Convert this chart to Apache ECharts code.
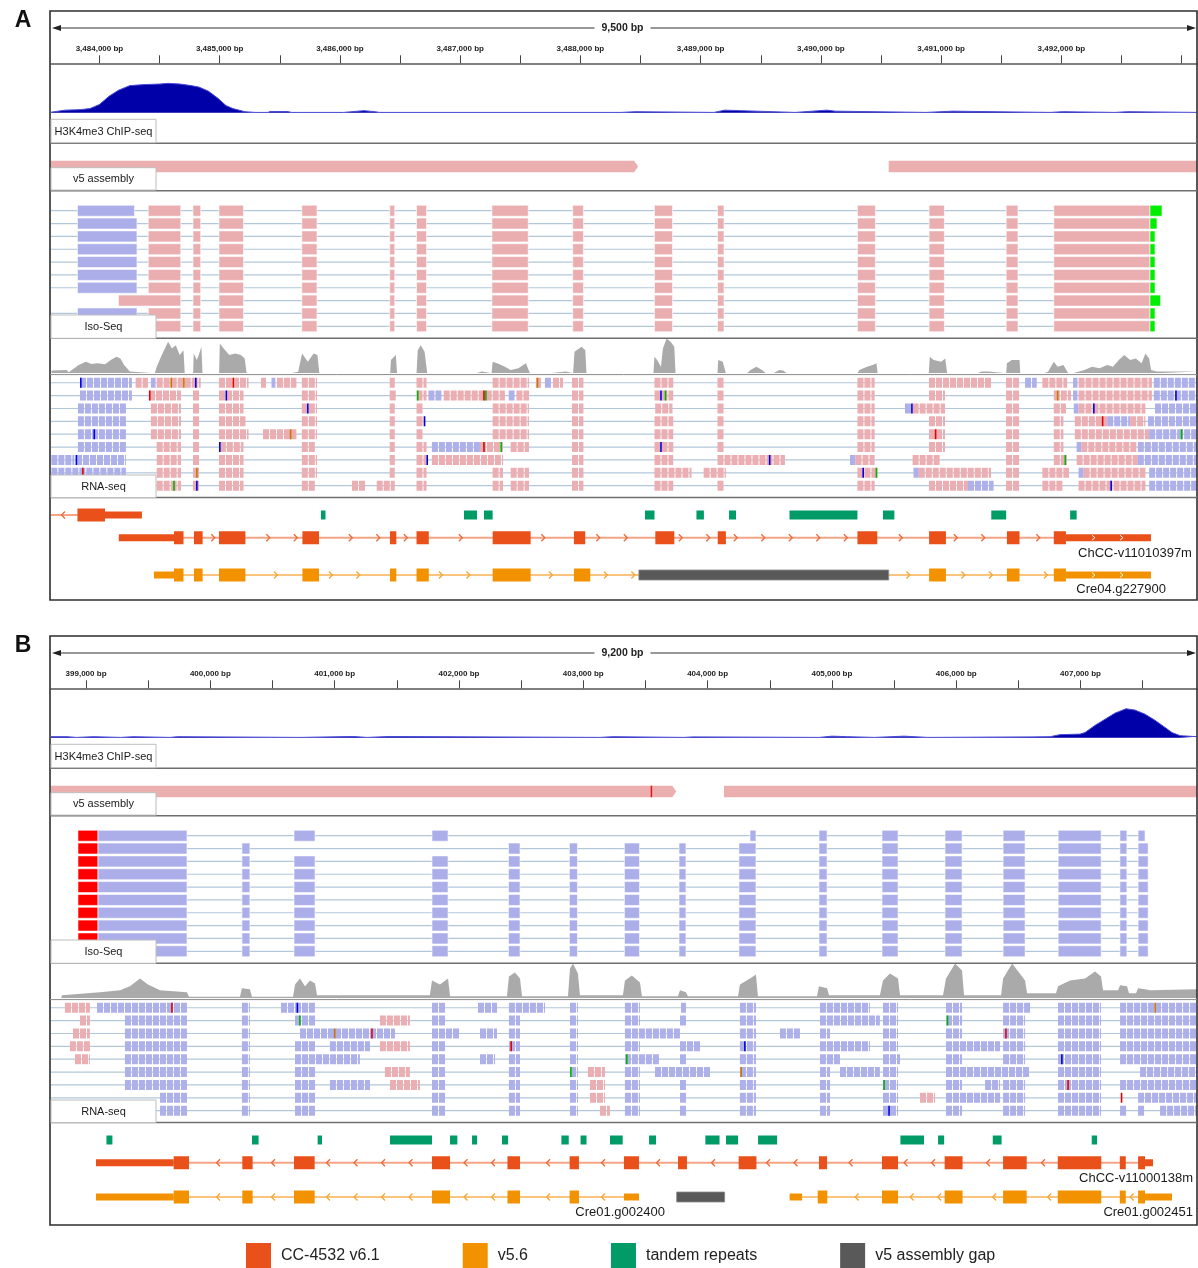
<!DOCTYPE html>
<html><head><meta charset="utf-8">
<script src="https://cdn.jsdelivr.net/npm/echarts@6/dist/echarts.min.js"></script>
<style>html,body{margin:0;padding:0;background:#fff;}#chart{width:1198px;height:1268px;}</style>
</head><body><div id="chart"></div>
<script>
// ================= PANEL A DATA =================
const A_range = [3483597, 3493128];
const A_span = '9,500 bp';
const A_ticks = [3484000,3484500,3485000,3485500,3486000,3486500,3487000,3487500,3488000,3488500,3489000,3489500,3490000,3490500,3491000,3491500,3492000,3492500,3493000];
const A_tickLabels = [3484000,3485000,3486000,3487000,3488000,3489000,3490000,3491000,3492000];
const A_chip = [[3483597,0.5],[3483713,2.5],[3483838,3],[3483921,4],[3484000,8],[3484079,16],[3484159,22],[3484254,26.5],[3484378,27.5],[3484503,28],[3484570,28.7],[3484670,28],[3484761,26.5],[3484828,25],[3484907,21],[3484986,14],[3485052,7],[3485110,4],[3485210,1],[3485293,0.3],[3485400,0.3],[3485420,1.2],[3485560,1.2],[3485600,0.3],[3486030,0.3],[3486040,1],[3486200,2],[3486290,1],[3486330,0.3],[3488337,0.3],[3488345,1],[3488455,1],[3488462,0.3],[3489110,0.3],[3489120,2],[3489200,2.5],[3489330,2],[3489335,0.3],[3489785,0.3],[3489795,1.5],[3490050,2.5],[3490120,1.5],[3490126,0.3],[3490874,0.3],[3490880,1.5],[3491095,1.5],[3491100,0.3],[3491906,0.3],[3491910,1],[3492010,1],[3492015,0.3],[3492445,0.3],[3492450,1],[3492550,1],[3492553,0.3],[3493128,0.3]];
const A_v5 = [[3483597,3488480,1],[3490564,3493128,0]];
const A_v5mark = [];
const A_isoExons = [[3484406,3484676],[3484778,3484842],[3484994,3485198],[3485683,3485809],[3486414,3486456],[3486637,3486720],[3487264,3487566],[3487936,3488025],[3488616,3488766],[3489140,3489194],[3490304,3490453],[3490900,3491027],[3491541,3491639],[3491937,3492737]];
const A_isoBlue = [[3483817,3484291],[3483817,3484312],[3483817,3484312],[3483817,3484312],[3483817,3484312],[3483817,3484312],[3483817,3484312],null,[3483817,3484312],[3483817,3484312]];
const A_isoFirst = [3484406,3484406,3484406,3484406,3484406,3484406,3484406,3484158,3484406,3484406];
const A_isoTail = [3492837,3492795,3492779,3492779,3492779,3492779,3492779,3492825,3492779,3492779];
const A_isoLineStart = [3483597,3483597,3483597,3483597,3483597,3483597,3483597,3484158,3483597,3483597];
const A_cov = [[3483601,2.7],[3483728,3.3],[3483744,1],[3483824,8],[3483887,11.7],[3483935,9.3],[3483983,10],[3484047,9],[3484094,13.3],[3484141,16.7],[3484174,15],[3484205,8.3],[3484253,1.7],[3484269,0],[3484460,0],[3484476,6.7],[3484524,20],[3484571,31.7],[3484603,25],[3484635,28.3],[3484667,18.3],[3484699,23.3],[3484709,0],[3484779,0],[3484784,20],[3484810,13.3],[3484826,18.3],[3484848,26.7],[3484857,0],[3484995,0],[3485001,30],[3485033,25],[3485080,18.3],[3485129,20],[3485176,18.3],[3485208,15],[3485224,0],[3485590,0],[3485606,1.5],[3485653,1.5],[3485685,20],[3485733,11.7],[3485781,20],[3485813,18.3],[3485829,0],[3486418,0],[3486424,13.3],[3486465,18.3],[3486475,0],[3486637,0],[3486647,23.3],[3486672,28.3],[3486704,21.7],[3486726,0],[3487134,0],[3487150,1.7],[3487181,1.7],[3487197,0],[3487261,0],[3487270,11.7],[3487308,10],[3487372,6.7],[3487420,3.3],[3487484,5],[3487547,10],[3487580,0],[3487739,0],[3487754,1.7],[3487881,1.7],[3487897,0],[3487939,0],[3487951,21.7],[3488009,26.7],[3488041,23.3],[3488050,0],[3488607,0],[3488616,16.7],[3488638,13.3],[3488670,6.7],[3488686,25],[3488717,35],[3488750,31.7],[3488781,26.7],[3488791,0],[3489140,0],[3489146,13.3],[3489184,11.7],[3489210,0],[3489384,0],[3489415,3.3],[3489463,6.7],[3489511,3.3],[3489543,0],[3489606,0],[3489654,3.3],[3489686,2.7],[3489717,0],[3490304,0],[3490320,3.3],[3490383,6.7],[3490431,8.3],[3490462,10],[3490472,0],[3490897,0],[3490906,16.7],[3490938,13.3],[3490954,15],[3491001,11.7],[3491034,15],[3491050,0],[3491303,0],[3491335,1.7],[3491398,1.7],[3491414,0],[3491541,0],[3491547,10],[3491588,13.3],[3491652,13.3],[3491658,0],[3491858,0],[3491890,1.7],[3491937,11.7],[3491969,6.7],[3492017,8.3],[3492058,0],[3492096,0],[3492192,3.3],[3492255,6.7],[3492318,5],[3492381,8.3],[3492429,6.7],[3492477,13.3],[3492524,18.3],[3492572,13.3],[3492619,15],[3492667,10],[3492699,20],[3492730,15],[3492746,3.3],[3492794,1.7],[3493128,1.7]];
const A_rna = [
[0,3483838,3484270,'b'],[0,3484301,3484403,'p'],[0,3484428,3484467,'b'],[0,3484476,3484842,'p'],[0,3484994,3485240,'p'],[0,3485343,3485385,'p'],[0,3485431,3485463,'b'],[0,3485476,3485638,'p'],[0,3485683,3485809,'p'],[0,3486414,3486456,'p'],[0,3486637,3486720,'p'],[0,3487270,3487572,'p'],[0,3487630,3487672,'p'],[0,3487705,3487755,'b'],[0,3487772,3487855,'p'],[0,3487930,3488025,'p'],[0,3488616,3488772,'p'],[0,3489140,3489194,'p'],[0,3490304,3490447,'p'],[0,3490899,3491415,'p'],[0,3491540,3491648,'p'],[0,3491698,3491795,'b'],[0,3491842,3492048,'p'],[0,3492097,3492134,'b'],[0,3492143,3492753,'p'],[0,3492769,3493128,'b'],
[1,3483838,3484270,'b'],[1,3484412,3484678,'p'],[1,3484778,3484842,'p'],[1,3484994,3485198,'p'],[1,3485683,3485809,'p'],[1,3486414,3486469,'p'],[1,3486637,3486720,'p'],[1,3486736,3486847,'b'],[1,3486863,3487372,'p'],[1,3487404,3487452,'b'],[1,3487468,3487573,'p'],[1,3487930,3488025,'p'],[1,3488616,3488772,'p'],[1,3489140,3489194,'p'],[1,3490304,3490447,'p'],[1,3490899,3491032,'p'],[1,3491540,3491648,'p'],[1,3491937,3492080,'p'],[1,3492097,3492134,'b'],[1,3492143,3492753,'p'],[1,3492769,3493128,'b'],
[2,3483821,3484220,'b'],[2,3484428,3484678,'p'],[2,3484778,3484842,'p'],[2,3484994,3485198,'p'],[2,3485683,3485809,'p'],[2,3486414,3486456,'p'],[2,3486637,3486699,'p'],[2,3487270,3487572,'p'],[2,3487930,3488025,'p'],[2,3488622,3488766,'p'],[2,3489140,3489194,'p'],[2,3490304,3490447,'p'],[2,3490699,3490763,'b'],[2,3490763,3491032,'p'],[2,3491540,3491648,'p'],[2,3491937,3492038,'p'],[2,3492103,3492143,'b'],[2,3492143,3492699,'p'],[2,3492779,3493128,'b'],
[3,3483821,3484220,'b'],[3,3484428,3484678,'p'],[3,3484778,3484842,'p'],[3,3484994,3485214,'p'],[3,3485683,3485809,'p'],[3,3486414,3486456,'p'],[3,3486637,3486704,'p'],[3,3487270,3487572,'p'],[3,3487930,3488025,'p'],[3,3488616,3488772,'p'],[3,3489140,3489194,'p'],[3,3490304,3490447,'p'],[3,3490899,3491032,'p'],[3,3491540,3491648,'p'],[3,3491937,3492017,'p'],[3,3492112,3492381,'p'],[3,3492381,3492572,'b'],[3,3492572,3492699,'p'],[3,3492720,3493128,'b'],
[4,3483821,3484220,'b'],[4,3484428,3484678,'p'],[4,3484778,3484842,'p'],[4,3484994,3485240,'p'],[4,3485360,3485638,'p'],[4,3485683,3485809,'p'],[4,3486414,3486456,'p'],[4,3486637,3486699,'p'],[4,3487270,3487572,'p'],[4,3487930,3488025,'p'],[4,3488616,3488772,'p'],[4,3489140,3489194,'p'],[4,3490304,3490447,'p'],[4,3490899,3491032,'p'],[4,3491540,3491648,'p'],[4,3491937,3492017,'p'],[4,3492112,3492730,'p'],[4,3492730,3493128,'b'],
[5,3483821,3484220,'b'],[5,3484476,3484678,'p'],[5,3484778,3484842,'p'],[5,3485001,3485198,'p'],[5,3485683,3485796,'p'],[5,3486414,3486456,'p'],[5,3486637,3486720,'p'],[5,3486765,3487165,'b'],[5,3487165,3487356,'p'],[5,3487420,3487572,'p'],[5,3487930,3488025,'p'],[5,3488616,3488772,'p'],[5,3489140,3489194,'p'],[5,3490304,3490447,'p'],[5,3490899,3491032,'p'],[5,3491540,3491648,'p'],[5,3491937,3492017,'p'],[5,3492127,3492166,'b'],[5,3492166,3492636,'p'],[5,3492636,3493128,'b'],
[6,3483600,3483791,'b'],[6,3483805,3484220,'b'],[6,3484476,3484678,'p'],[6,3484778,3484842,'p'],[6,3484994,3485198,'p'],[6,3485683,3485809,'p'],[6,3486414,3486456,'p'],[6,3486637,3486720,'p'],[6,3486765,3487356,'p'],[6,3487930,3488025,'p'],[6,3488616,3488772,'p'],[6,3489140,3489701,'p'],[6,3490242,3490288,'b'],[6,3490288,3490447,'p'],[6,3490763,3491001,'p'],[6,3491540,3491648,'p'],[6,3491937,3492048,'p'],[6,3492127,3492636,'p'],[6,3492636,3493128,'b'],
[7,3483600,3484220,'b'],[7,3484476,3484678,'p'],[7,3484778,3484842,'p'],[7,3484994,3485198,'p'],[7,3485683,3485809,'p'],[7,3486414,3486456,'p'],[7,3486637,3486720,'p'],[7,3487270,3487356,'p'],[7,3487420,3487572,'p'],[7,3487930,3488025,'p'],[7,3488616,3488924,'p'],[7,3489025,3489210,'p'],[7,3490304,3490472,'p'],[7,3490770,3490814,'b'],[7,3490814,3491415,'p'],[7,3491540,3491648,'p'],[7,3491842,3492063,'p'],[7,3492143,3492185,'b'],[7,3492185,3492699,'p'],[7,3492730,3493128,'b'],
[8,3484476,3484678,'p'],[8,3484778,3484842,'p'],[8,3484994,3485198,'p'],[8,3485683,3485796,'p'],[8,3486100,3486208,'p'],[8,3486306,3486456,'p'],[8,3486637,3486720,'p'],[8,3487270,3487356,'p'],[8,3487420,3487572,'p'],[8,3487930,3488025,'p'],[8,3488616,3488772,'p'],[8,3489140,3489194,'p'],[8,3490304,3490447,'p'],[8,3490899,3491223,'p'],[8,3491223,3491436,'b'],[8,3491540,3491648,'p'],[8,3491842,3492017,'p'],[8,3492143,3492699,'p'],[8,3492730,3493128,'b']
];
const A_mm = [[0,3483845,'C'],[0,3484597,'G'],[0,3484702,'G'],[0,3484801,'C'],[0,3485113,'T'],[0,3487643,'G'],[1,3484418,'T'],[1,3485055,'C'],[1,3486647,'A'],[1,3487198,'T'],[1,3487214,'A'],[1,3488670,'C'],[1,3488708,'A'],[1,3491969,'G'],[1,3492953,'C'],[2,3485733,'C'],[2,3490757,'C'],[2,3492270,'C'],[3,3486704,'C'],[3,3492343,'T'],[4,3483957,'C'],[4,3485590,'G'],[4,3490954,'T'],[4,3493000,'A'],[5,3485001,'C'],[5,3487198,'T'],[5,3487341,'A'],[5,3488670,'C'],[6,3483808,'C'],[6,3486726,'C'],[6,3489574,'C'],[6,3492033,'A'],[7,3483862,'T'],[7,3484810,'G'],[7,3490352,'C'],[7,3490462,'A'],[8,3484620,'A'],[8,3484810,'C'],[8,3492414,'C']];
const A_repeats = [[3485842,3485880],[3487032,3487140],[3487198,3487270],[3488537,3488616],[3488965,3489027],[3489236,3489294],[3489739,3490304],[3490516,3490611],[3491417,3491541],[3492073,3492127]];
const A_leftGene_cds = [[3483817,3484046]];
const A_leftGene_utr = [[3484046,3484353]];
const A_ChCC_cds = [[3484620,3484699],[3484786,3484858],[3484994,3485214],[3485688,3485826],[3486416,3486469],[3486637,3486739],[3487270,3487586],[3487946,3488040],[3488623,3488781],[3489142,3489210],[3490304,3490469],[3490900,3491040],[3491547,3491652],[3491937,3492038]];
const A_ChCC_utr = [[3484161,3484620],[3492038,3492745]];
const A_Cre_cds = [[3484620,3484699],[3484786,3484858],[3484994,3485214],[3485688,3485826],[3486416,3486469],[3486637,3486739],[3487270,3487586],[3487946,3488082],[3490900,3491040],[3491547,3491652],[3491937,3492038]];
const A_Cre_utr = [[3484453,3484620],[3492038,3492745]];
const A_gap = [[3488486,3490564]];

// ================= PANEL B DATA =================
const B_range = [398718, 407937];
const B_span = '9,200 bp';
const B_ticks = [399000,399500,400000,400500,401000,401500,402000,402500,403000,403500,404000,404500,405000,405500,406000,406500,407000,407500];
const B_tickLabels = [399000,400000,401000,402000,403000,404000,405000,406000,407000];
const B_chip = [[398718,1],[398846,1],[398850,0.3],[398923,0.3],[398930,1],[399060,1],[399064,0.3],[399278,0.3],[399285,1],[399380,1],[399385,0.3],[399675,0.3],[399680,1],[399735,1],[399739,0.3],[400721,0.3],[400730,1.2],[401150,1.2],[401155,0.3],[401260,0.3],[401265,1.2],[401440,1.2],[401445,0.3],[403133,0.3],[403140,1],[403235,1],[403240,0.3],[403811,0.3],[403815,0.8],[403880,0.8],[403883,0.3],[404897,0.3],[404905,1],[405000,1.5],[405125,1],[405130,0.3],[405343,0.3],[405350,1.5],[405580,1.5],[405588,0.3],[405773,0.3],[405780,0.8],[406610,0.8],[406617,0.3],[406755,1],[406835,3],[406996,3.5],[407036,5],[407116,12],[407197,18],[407277,24],[407366,28.3],[407438,27],[407519,23],[407599,17],[407680,10],[407736,5],[407801,2],[407937,1]];
const B_v5 = [[398718,403748,1],[404132,407937,0]];
const B_v5mark = [403542];
const B_isoExons = [[399096,399812],[400254,400318],[400673,400842],[401783,401912],[402398,402491],[402888,402953],[403331,403452],[403770,403826],[404252,404389],[404896,404961],[405403,405532],[405910,406047],[406377,406554],[406820,407166],[407317,407373],[407463,407544]];
const B_isoRow0 = [[399096,399812],[400673,400842],[401783,401912],[404341,404389],[404896,404961],[405403,405532],[405910,406047],[406377,406554],[406820,407166],[407317,407373],[407463,407519]];
const B_isoRow1 = [[399096,399812],[400254,400318],[402398,402491],[402888,402953],[403331,403452],[403770,403826],[404252,404389],[404896,404961],[405403,405532],[405910,406047],[406377,406554],[406820,407166],[407317,407373],[407463,407544]];
const B_isoClip = [398935,399096];
const B_cov = [[398718,0],[398800,0],[398806,3],[399112,6],[399273,8],[399353,12],[399434,20],[399498,14],[399595,8],[399812,6],[399828,1.5],[400238,1.5],[400254,10],[400318,9],[400335,1.5],[400665,1.5],[400681,14],[400721,20],[400761,12],[400802,18],[400842,15],[400858,3],[401766,3],[401783,18],[401847,14],[401912,20],[401928,2],[402386,2],[402402,22],[402450,26],[402491,20],[402507,2],[402877,2],[402893,30],[402917,35],[402957,25],[402973,3],[403319,3],[403335,18],[403391,23],[403456,16],[403472,2],[403762,2],[403778,8],[403826,6],[403842,2],[404245,2],[404260,14],[404341,20],[404389,24],[404405,2],[404880,2],[404896,12],[404961,10],[404977,3],[405386,3],[405411,18],[405467,25],[405532,20],[405548,3],[405894,3],[405918,20],[405991,35],[406047,28],[406063,3],[406361,3],[406377,20],[406450,35],[406554,18],[406570,5],[406803,5],[406819,12],[406916,18],[407036,20],[407117,27],[407165,22],[407181,8],[407302,8],[407318,13],[407374,12],[407390,5],[407447,5],[407463,10],[407519,9],[407559,8],[407937,9]];
const B_rna = [
[0,398830,399031,'p'],[0,399088,399812,'b'],[0,400254,400318,'b'],[0,400568,400842,'b'],[0,401783,401896,'b'],[0,402153,402306,'b'],[0,402402,402692,'b'],[0,402893,402957,'b'],[0,403335,403456,'b'],[0,403786,403826,'b'],[0,404260,404389,'b'],[0,404904,405306,'b'],[0,405411,405532,'b'],[0,405918,406047,'b'],[0,406377,406594,'b'],[0,406819,407165,'b'],[0,407318,407937,'b'],
[1,398951,399031,'p'],[1,399313,399812,'b'],[1,400254,400318,'b'],[1,400681,400842,'b'],[1,401364,401605,'p'],[1,401783,401896,'b'],[1,402402,402491,'b'],[1,402893,402957,'b'],[1,403335,403456,'b'],[1,403778,403826,'b'],[1,404260,404389,'b'],[1,404904,405386,'b'],[1,405411,405532,'b'],[1,405918,406047,'b'],[1,406377,406554,'b'],[1,406819,407165,'b'],[1,407318,407937,'b'],
[2,398895,399031,'p'],[2,399313,399812,'b'],[2,400254,400318,'b'],[2,400721,401485,'b'],[2,401783,402008,'b'],[2,402169,402306,'b'],[2,402402,402491,'b'],[2,402893,402957,'b'],[2,403335,403778,'b'],[2,404260,404389,'b'],[2,404582,404743,'b'],[2,404904,404985,'b'],[2,405411,405532,'b'],[2,405918,406047,'b'],[2,406377,406554,'b'],[2,406819,407165,'b'],[2,407318,407937,'b'],
[3,398870,399031,'p'],[3,399313,399812,'b'],[3,400254,400318,'b'],[3,400681,400842,'b'],[3,400962,401284,'b'],[3,401364,401605,'p'],[3,401783,401896,'b'],[3,402402,402491,'b'],[3,402893,402957,'b'],[3,403335,403456,'b'],[3,403778,403939,'b'],[3,404260,404389,'b'],[3,404904,405306,'b'],[3,405411,405532,'b'],[3,405918,406353,'b'],[3,406377,406554,'b'],[3,406819,407165,'b'],[3,407318,407937,'b'],
[4,398911,399031,'p'],[4,399313,399812,'b'],[4,400254,400318,'b'],[4,400681,401203,'b'],[4,401783,401896,'b'],[4,402169,402290,'b'],[4,402402,402491,'b'],[4,402893,402957,'b'],[4,403335,403617,'b'],[4,403778,403826,'b'],[4,404260,404389,'b'],[4,404904,405065,'b'],[4,405411,405548,'b'],[4,405918,406047,'b'],[4,406377,406554,'b'],[4,406819,407165,'b'],[4,407318,407937,'b'],
[5,399313,399812,'b'],[5,400254,400318,'b'],[5,400681,400842,'b'],[5,401404,401605,'p'],[5,401783,401896,'b'],[5,402402,402491,'b'],[5,402893,402957,'b'],[5,403037,403174,'p'],[5,403335,403456,'b'],[5,403577,404019,'b'],[5,404260,404389,'b'],[5,404904,404985,'b'],[5,405065,405386,'b'],[5,405411,405532,'b'],[5,405918,406594,'b'],[5,406819,407165,'b'],[5,407479,407937,'b'],
[6,399313,399812,'b'],[6,400254,400318,'b'],[6,400681,400842,'b'],[6,400962,401284,'b'],[6,401445,401686,'p'],[6,401783,401896,'b'],[6,402402,402491,'b'],[6,402893,402957,'b'],[6,403054,403174,'p'],[6,403335,403456,'b'],[6,403778,403826,'b'],[6,404260,404389,'b'],[6,404904,404985,'b'],[6,405411,405532,'b'],[6,405918,406047,'b'],[6,406232,406353,'b'],[6,406377,406554,'b'],[6,406819,407165,'b'],[6,407318,407937,'b'],
[7,399595,399812,'b'],[7,400254,400318,'b'],[7,400681,400842,'b'],[7,401783,401896,'b'],[7,402402,402491,'b'],[7,402893,402957,'b'],[7,403054,403174,'p'],[7,403335,403456,'b'],[7,403778,403826,'b'],[7,404260,404389,'b'],[7,404904,404985,'b'],[7,405411,405532,'b'],[7,405709,405830,'p'],[7,405918,406353,'b'],[7,406377,406554,'b'],[7,406819,407165,'b'],[7,407463,407937,'b'],
[8,399595,399812,'b'],[8,400254,400318,'b'],[8,400681,400842,'b'],[8,401783,401896,'b'],[8,402402,402491,'b'],[8,402893,402957,'b'],[8,403134,403214,'p'],[8,403335,403456,'b'],[8,403778,403826,'b'],[8,404260,404389,'b'],[8,404904,404985,'b'],[8,405411,405532,'b'],[8,405918,406047,'b'],[8,406377,406554,'b'],[8,406819,407165,'b'],[8,407318,407374,'b'],[8,407463,407519,'b'],[8,407640,407937,'b']
];
const B_mm = [[0,399691,'T'],[0,400700,'C'],[1,400720,'A'],[2,401000,'G'],[2,401300,'T'],[3,402420,'T'],[4,403350,'A'],[5,404270,'G'],[6,405420,'A'],[2,406400,'T'],[4,406850,'C'],[7,407330,'T'],[1,405930,'A'],[3,404300,'C'],[5,402900,'A'],[6,406900,'T'],[0,407600,'G'],[8,405460,'C']];
const B_repeats = [[399164,399212],[400335,400388],[400863,400898],[401445,401783],[401928,401987],[402105,402146],[402346,402395],[402824,402883],[402978,403026],[403215,403317],[403529,403585],[403982,404096],[404148,404245],[404406,404559],[405551,405741],[405854,405903],[406294,406365],[407090,407133]];
const B_ChCC_cds = [[399705,399828],[400257,400340],[400673,400839],[401783,401928],[402390,402491],[402890,402965],[403327,403448],[403762,403834],[404250,404393],[404896,404961],[405403,405532],[405907,406051],[406377,406567],[406817,407167],[407316,407364],[407463,407519]];
const B_ChCC_utr = [[399080,399705],[407519,407583]];
const B_Cre400_cds = [[399705,399828],[400257,400340],[400673,400839],[401783,401928],[402390,402491],[402890,402965]];
const B_Cre400_utr = [[399080,399705],[403327,403448]];
const B_Cre451_cds = [[404886,404963],[405403,405532],[405907,406051],[406377,406567],[406817,407167],[407316,407364],[407463,407519]];
const B_Cre451_utr = [[404660,404760],[407519,407736]];
const B_gap = [[403751,404137]];

// ================= STYLE =================
const FONT = '"Liberation Sans", Arial, Helvetica, sans-serif';
const COL = {pink:'#eaadb0', blue:'#abaee9', green:'#00ee00', red:'#ff0000', iline:'#b3c7da', chip:'#0000a8', chipLine:'#4a4ad8', cov:'#aaaaaa', v5:'#ecafaf',
  cc:'#e9501a', ccLine:'#f3a585', ccChev:'#ec6a3a', v56:'#f39200', v56Line:'#f8c47e', v56Chev:'#f4a638', rep:'#009b67', gap:'#595959'};
const MMCOL = {A:'#00b400', C:'#0000e6', G:'#c87800', T:'#e60000'};
const READCOL = {p:'#ebaeb2', b:'#aeb0ea'};

const grids=[], xAxes=[], yAxes=[], series=[], graphics=[];
function addGrid(top,height,xr,ymin,ymax,inverse,xExtra){
  const i=grids.length;
  grids.push({left:51, top:top, width:1146, height:height});
  xAxes.push(Object.assign({type:'value', gridIndex:i, min:xr[0], max:xr[1], show:false}, xExtra||{}));
  yAxes.push({type:'value', gridIndex:i, min:ymin, max:ymax, inverse:!!inverse, show:false});
  return i;
}
function rectSeries(gi, items, cfg){
  return {type:'custom', name:cfg.name, xAxisIndex:gi, yAxisIndex:gi, clip:true, silent:true, z:cfg.z||2,
    itemStyle:{color:cfg.color||'#999'}, encode:{x:[0,1], y:2},
    data: items.map(d=>[d[0],d[1],d[2]]),
    renderItem:function(params, api){
      const d=items[params.dataIndex];
      const a=api.coord([d[0],d[2]]), b=api.coord([d[1],d[2]]);
      const h=cfg.h(d), w=Math.max(b[0]-a[0], cfg.minW||1);
      const x = cfg.center ? a[0]-w/2 : a[0];
      return {type:'rect', shape:{x:x, y:a[1]-h/2, width:w, height:h}, style:{fill:cfg.fill(d), stroke:cfg.stroke||null, lineWidth:cfg.lw||0}};
    }};
}
// aligned reads: a run of reads is drawn as a row of read boxes
function readSeries(gi, runs){
  return {type:'custom', xAxisIndex:gi, yAxisIndex:gi, clip:true, silent:true, z:2, encode:{x:[1,2], y:0},
    data: runs.map(d=>[d[0],d[1],d[2]]),
    renderItem:function(params, api){
      const d=runs[params.dataIndex];
      const a=api.coord([d[1],d[0]]), b=api.coord([d[2],d[0]]);
      const ch=[]; const col=READCOL[d[3]];
      for(let x=a[0]; x<b[0]-0.8; x+=7){
        ch.push({type:'rect', shape:{x:x, y:a[1]-5, width:Math.min(6, b[0]-x), height:10}, style:{fill:col}});
      }
      return {type:'group', children:ch};
    }};
}
function hLineSeries(gi, items, color, lw){
  return {type:'custom', xAxisIndex:gi, yAxisIndex:gi, clip:true, silent:true, z:1, encode:{x:[0,1], y:2},
    data: items.map(d=>[d[0],d[1],d[2]]),
    renderItem:function(params, api){
      const d=items[params.dataIndex];
      const a=api.coord([d[0],d[2]]), b=api.coord([d[1],d[2]]);
      return {type:'line', shape:{x1:a[0], y1:a[1], x2:b[0], y2:b[1]}, style:{stroke:color, lineWidth:lw}};
    }};
}
function addGene(gi, g, pal, legendName){
  const all=g.cds.concat(g.utr);
  const lo=g.span?g.span[0]:Math.min.apply(null, all.map(d=>d[0]));
  const hi=g.span?g.span[1]:Math.max.apply(null, all.map(d=>d[1]));
  const cdsHi=Math.max.apply(null, g.cds.map(d=>d[1]));
  series.push({type:'custom', xAxisIndex:gi, yAxisIndex:gi, clip:true, silent:true, z:2, encode:{x:[0,1], y:2},
    data:[[lo,hi,0]],
    renderItem:function(params, api){
      const a=api.coord([lo,0]), b=api.coord([hi,0]), y=a[1];
      const bp=all.map(d=>[api.coord([d[0],0])[0], api.coord([d[1],0])[0]]);
      const ch=[{type:'line', shape:{x1:a[0],y1:y,x2:b[0],y2:y}, style:{stroke:pal.line, lineWidth:2}}];
      for(let x=a[0]+12; x<b[0]-5; x+=27.5){
        if(bp.some(p=>x>p[0]-5 && x<p[1]+5)) continue;
        const pts = g.strand==='+' ? [[x-2,y-3.5],[x+1.5,y],[x-2,y+3.5]] : [[x+2,y-3.5],[x-1.5,y],[x+2,y+3.5]];
        ch.push({type:'polyline', shape:{points:pts}, style:{stroke:pal.chev, lineWidth:1.3, fill:null}});
      }
      return {type:'group', children:ch};
    }});
  const items=g.cds.map(d=>[d[0],d[1],0,'c']).concat(g.utr.map(d=>[d[0],d[1],0,'u']));
  series.push({type:'custom', name:legendName, xAxisIndex:gi, yAxisIndex:gi, clip:true, silent:true, z:3, itemStyle:{color:pal.cds}, encode:{x:[0,1], y:2},
    data: items.map(d=>[d[0],d[1],0]),
    renderItem:function(params, api){
      const d=items[params.dataIndex];
      const a=api.coord([d[0],0]), b=api.coord([d[1],0]);
      const h=d[3]==='c'?13:7, w=Math.max(b[0]-a[0],1);
      const ch=[{type:'rect', shape:{x:a[0], y:a[1]-h/2, width:w, height:h}, style:{fill:pal.cds}}];
      if(d[3]==='u' && g.utrArrows && d[0]>=cdsHi && w>40){
        for(let x=a[0]+28; x<b[0]-6; x+=28){
          const y=a[1];
          ch.push({type:'polyline', shape:{points:[[x-2,y-2.5],[x+1,y],[x-2,y+2.5]]}, style:{stroke:'#ffffff', lineWidth:1, fill:null}});
        }
      }
      return {type:'group', children:ch};
    }});
  if(g.label){
    series.push({type:'custom', xAxisIndex:gi, yAxisIndex:gi, clip:false, silent:true, z:4, encode:{x:[0,1], y:2},
      data:[[g.labelAt,g.labelAt,0]],
      renderItem:function(params, api){
        const a=api.coord([g.labelAt,0]);
        return {type:'text', x:a[0], y:a[1]+g.labelDy, style:{text:g.label, fill:'#1a1a1a', font:'13px '+FONT, align:'right', verticalAlign:'middle'}};
      }});
  }
}

function buildPanel(P, y0, letter){
  const xr=P.range;
  const gR=addGrid(y0+20, 43.3, xr, 0, 1, false, {show:true, position:'bottom',
    axisLine:{show:true, onZero:false, lineStyle:{color:'#555', width:1.5}},
    axisTick:{show:true, inside:true, length:8, customValues:P.ticks, lineStyle:{color:'#444', width:1}},
    axisLabel:{show:true, inside:true, margin:11, customValues:P.tickLabels, fontSize:8, fontWeight:'bold', color:'#222', fontFamily:FONT,
      formatter:function(v){return Number(v).toLocaleString('en-US')+' bp';}},
    splitLine:{show:false}});
  const gC=addGrid(y0+82, 30.7, xr, 0, 30, false);
  series.push({type:'line', xAxisIndex:gC, yAxisIndex:gC, data:P.chip, symbol:'none', silent:true, lineStyle:{color:COL.chipLine, width:1}, areaStyle:{color:COL.chip, opacity:1}, z:2});
  const gV=addGrid(y0+160, 13, xr, -1, 1, false);
  series.push({type:'custom', xAxisIndex:gV, yAxisIndex:gV, clip:true, silent:true, encode:{x:[0,1], y:2},
    data:P.v5.map(d=>[d[0],d[1],0]),
    renderItem:function(params, api){
      const d=P.v5[params.dataIndex];
      const a=api.coord([d[0],0]), b=api.coord([d[1],0]), h=11.5, y=a[1];
      const pts = d[2] ? [[a[0],y-h/2],[b[0]-4,y-h/2],[b[0],y],[b[0]-4,y+h/2],[a[0],y+h/2]] : [[a[0],y-h/2],[b[0],y-h/2],[b[0],y+h/2],[a[0],y+h/2]];
      return {type:'polygon', shape:{points:pts}, style:{fill:COL.v5}};
    }});
  if(P.v5mark.length) series.push(rectSeries(gV, P.v5mark.map(v=>[v,v,0]), {h:()=>11.5, fill:()=>'#e8141b', minW:1.5, z:3}));
  const nIso=P.isoRows.length;
  const gI=addGrid(y0+204.3, 12.84*nIso, xr, -0.5, nIso-0.5, true);
  series.push(hLineSeries(gI, P.isoLines, COL.iline, 1.2));
  series.push(rectSeries(gI, P.isoRows.flat(), {h:()=>11, fill:d=>COL[d[3]], stroke:'#ffffff', lw:0.6}));
  const gCv=addGrid(y0+338.5, 34.8, xr, 0, 35, false);
  series.push({type:'line', xAxisIndex:gCv, yAxisIndex:gCv, data:P.cov, symbol:'none', silent:true, lineStyle:{width:0, color:COL.cov}, areaStyle:{color:COL.cov, opacity:1}, z:2});
  const gRd=addGrid(y0+376.3, 12.87*9, xr, -0.5, 8.5, true);
  series.push(hLineSeries(gRd, [0,1,2,3,4,5,6,7,8].map(r=>[xr[0],xr[1],r]), COL.iline, 1.2));
  series.push(readSeries(gRd, P.rna));
  series.push(rectSeries(gRd, P.mm.map(m=>[m[1],m[1],m[0],m[2]]), {h:()=>10, fill:d=>MMCOL[d[3]], minW:1.6, center:true, z:3}));
  const gL0=addGrid(y0+505, 20, xr, -1, 1, false);
  series.push(rectSeries(gL0, P.repeats.map(d=>[d[0],d[1],0]), {name:'tandem repeats', color:COL.rep, h:()=>9, fill:()=>COL.rep, minW:2}));
  P.lane0Genes.forEach(g=>addGene(gL0, g, {cds:COL.cc, line:COL.ccLine, chev:COL.ccChev}, 'CC-4532 v6.1'));
  const gL1=addGrid(y0+527.7, 20, xr, -1, 1, false);
  P.lane1Genes.forEach(g=>addGene(gL1, g, {cds:COL.cc, line:COL.ccLine, chev:COL.ccChev}, 'CC-4532 v6.1'));
  const gL2=addGrid(y0+P.lane2Y-10, 20, xr, -1, 1, false);
  P.lane2Genes.forEach(g=>addGene(gL2, g, {cds:COL.v56, line:COL.v56Line, chev:COL.v56Chev}, 'v5.6'));
  series.push(rectSeries(gL2, P.gap.map(d=>[d[0],d[1],0]), {name:'v5 assembly gap', color:COL.gap, h:()=>10, fill:()=>COL.gap, stroke:'#8a8a8a', lw:0.8, z:5}));

  graphics.push({type:'rect', z:100, shape:{x:50, y:y0+11, width:1147, height:589}, style:{fill:null, stroke:'#2e2e2e', lineWidth:1.6}});
  [143.3,190.7,338.3,497.5].forEach(yy=>graphics.push({type:'line', z:100, shape:{x1:50,y1:y0+yy,x2:1197,y2:y0+yy}, style:{stroke:'#6f6f6f', lineWidth:1.6}}));
  graphics.push({type:'line', z:100, shape:{x1:50,y1:y0+374.6,x2:1197,y2:y0+374.6}, style:{stroke:'#8a8a8a', lineWidth:1}});
  [[119.3,23.4,'H3K4me3 ChIP-seq'],[167.7,22.4,'v5 assembly'],[315,23.3,'Iso-Seq'],[475,22.5,'RNA-seq']].forEach(b=>{
    graphics.push({type:'rect', z:101, shape:{x:51, y:y0+b[0], width:105, height:b[1]}, style:{fill:'#ffffff', stroke:'#bdbdbd', lineWidth:1}});
    graphics.push({type:'text', z:102, x:103.5, y:y0+b[0]+b[1]/2+0.5, style:{text:b[2], font:'11px '+FONT, fill:'#1a1a1a', align:'center', verticalAlign:'middle'}});
  });
  graphics.push({type:'line', z:100, shape:{x1:58,y1:y0+28,x2:1190,y2:y0+28}, style:{stroke:'#333', lineWidth:1.2}});
  graphics.push({type:'polygon', z:100, shape:{points:[[52,y0+28],[61,y0+25],[61,y0+31]]}, style:{fill:'#222'}});
  graphics.push({type:'polygon', z:100, shape:{points:[[1196,y0+28],[1187,y0+25],[1187,y0+31]]}, style:{fill:'#222'}});
  graphics.push({type:'text', z:101, x:622.5, y:y0+28, style:{text:P.span, font:'bold 10.5px '+FONT, fill:'#222', align:'center', verticalAlign:'middle', backgroundColor:'#ffffff', padding:[1,7]}});
  graphics.push({type:'text', z:101, x:23, y:y0+21, style:{text:letter, font:'bold 23px '+FONT, fill:'#111', align:'center', verticalAlign:'middle'}});
}

// ----- panel A -----
const A_isoRows=[], A_isoLines=[];
A_isoBlue.forEach((bl,r)=>{
  const row=[];
  if(bl) row.push([bl[0],bl[1],r,'blue']);
  A_isoExons.forEach((e,k)=>row.push([k===0?A_isoFirst[r]:e[0], e[1], r, 'pink']));
  row.push([A_isoExons[A_isoExons.length-1][1], A_isoTail[r], r, 'green']);
  A_isoRows.push(row);
  A_isoLines.push([A_isoLineStart[r], A_isoTail[r], r]);
});
buildPanel({range:A_range, span:A_span, ticks:A_ticks, tickLabels:A_tickLabels, chip:A_chip, v5:A_v5, v5mark:A_v5mark,
  isoRows:A_isoRows, isoLines:A_isoLines, cov:A_cov, rna:A_rna, mm:A_mm, repeats:A_repeats, gap:A_gap, lane2Y:575,
  lane0Genes:[{cds:A_leftGene_cds, utr:A_leftGene_utr, strand:'-', span:[A_range[0], A_leftGene_utr[0][1]]}],
  lane1Genes:[{cds:A_ChCC_cds, utr:A_ChCC_utr, strand:'+', utrArrows:true, label:'ChCC-v11010397m', labelAt:3493086, labelDy:15.5}],
  lane2Genes:[{cds:A_Cre_cds, utr:A_Cre_utr, strand:'+', utrArrows:true, label:'Cre04.g227900', labelAt:3492870, labelDy:14}]
}, 0, 'A');

// ----- panel B -----
const B_isoRows=[], B_isoLines=[];
for(let r=0;r<10;r++){
  const ex = r===0 ? B_isoRow0 : (r===1 ? B_isoRow1 : B_isoExons);
  const row=[[B_isoClip[0],B_isoClip[1],r,'red']];
  ex.forEach(e=>row.push([e[0],e[1],r,'blue']));
  B_isoRows.push(row); B_isoLines.push([B_isoClip[0], ex[ex.length-1][1], r]);
}
buildPanel({range:B_range, span:B_span, ticks:B_ticks, tickLabels:B_tickLabels, chip:B_chip, v5:B_v5, v5mark:B_v5mark,
  isoRows:B_isoRows, isoLines:B_isoLines, cov:B_cov, rna:B_rna, mm:B_mm, repeats:B_repeats, gap:B_gap, lane2Y:572,
  lane0Genes:[],
  lane1Genes:[{cds:B_ChCC_cds, utr:B_ChCC_utr, strand:'-', label:'ChCC-v11000138m', labelAt:407905, labelDy:16}],
  lane2Genes:[{cds:B_Cre400_cds, utr:B_Cre400_utr, strand:'-', label:'Cre01.g002400', labelAt:403657, labelDy:15.5},
              {cds:B_Cre451_cds, utr:B_Cre451_utr, strand:'-', label:'Cre01.g002451', labelAt:407905, labelDy:15.5}]
}, 625, 'B');

const chart=echarts.init(document.getElementById('chart'), null, {renderer:'canvas'});
chart.setOption({
  animation:false, backgroundColor:'#ffffff', textStyle:{fontFamily:FONT},
  grid:grids, xAxis:xAxes, yAxis:yAxes, series:series,
  legend:{left:246, top:1243, padding:0, itemWidth:25, itemHeight:25, itemGap:83, icon:'rect', selectedMode:false,
    data:['CC-4532 v6.1','v5.6','tandem repeats','v5 assembly gap'],
    textStyle:{fontSize:16, color:'#222', fontFamily:FONT, padding:[0,0,0,5]}},
  graphic:{elements:graphics}
});
</script></body></html>
